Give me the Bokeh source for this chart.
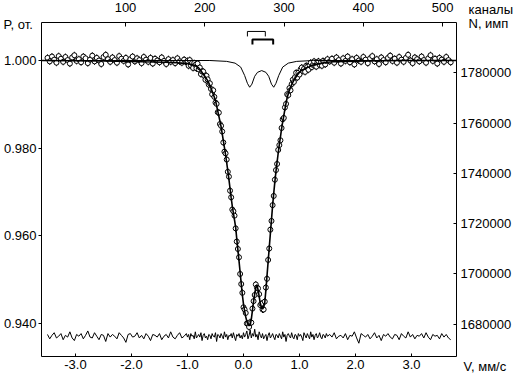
import numpy as np
from bokeh.plotting import figure
from bokeh.models import (Range1d, LinearAxis, FixedTicker, PrintfTickFormatter,
                          Label, ColumnDataSource)
from bokeh.embed import file_html
from bokeh.resources import INLINE

# ---------------- data ----------------
# velocity of the measured channels, mm/s
velocity = np.round(np.concatenate([np.arange(-3.50, -1.0, 0.04),
                                    np.arange(-1.00, 1.51, 0.02),
                                    np.arange(1.54, 3.71, 0.04)]), 2)

# relative transmission P of the measured points
p_left = [1.0006, 0.9998, 1.0009, 1.0002, 0.9995, 1.0010, 1.0004, 0.9997, 1.0008, 1.0001,
          0.9993, 1.0007, 1.0012, 0.9999, 1.0003, 0.9996, 1.0009, 1.0005, 0.9994, 1.0002,
          1.0011, 0.9998, 1.0006, 1.0000, 0.9992, 1.0008, 1.0013, 1.0003, 0.9997, 1.0007,
          1.0001, 0.9995, 1.0010, 1.0004, 0.9999, 1.0006, 0.9991, 1.0003, 1.0009, 0.9998,
          1.0005, 1.0001, 0.9994, 1.0008, 1.0002, 0.9997, 1.0006, 0.9993, 1.0004, 1.0000,
          0.9996, 1.0007, 0.9999, 0.9992, 1.0003, 0.9997, 1.0001, 0.9994, 1.0005, 0.9998,
          0.9995, 1.0002, 0.9996]
p_center = [0.9999, 0.9988, 1.0001, 0.9989, 0.9994, 0.9983, 0.9994, 0.9990, 0.9982, 0.9993,
            0.9980, 0.9984, 0.9969, 0.9975, 0.9975, 0.9965, 0.9956, 0.9965, 0.9957, 0.9945,
            0.9948, 0.9935, 0.9923, 0.9932, 0.9917, 0.9904, 0.9901, 0.9882, 0.9881, 0.9855,
            0.9851, 0.9838, 0.9813, 0.9792, 0.9788, 0.9774, 0.9746, 0.9735, 0.9703, 0.9688,
            0.9660, 0.9656, 0.9646, 0.9617, 0.9587, 0.9570, 0.9551, 0.9513, 0.9490, 0.9470,
            0.9437, 0.9432, 0.9424, 0.9400, 0.9400, 0.9392, 0.9403, 0.9402, 0.9434, 0.9451,
            0.9465, 0.9489, 0.9482, 0.9480, 0.9467, 0.9442, 0.9445, 0.9432, 0.9432, 0.9450,
            0.9482, 0.9502, 0.9545, 0.9571, 0.9614, 0.9634, 0.9670, 0.9691, 0.9728, 0.9750,
            0.9764, 0.9796, 0.9807, 0.9818, 0.9846, 0.9866, 0.9869, 0.9893, 0.9901, 0.9923,
            0.9921, 0.9937, 0.9932, 0.9946, 0.9956, 0.9951, 0.9962, 0.9972, 0.9961, 0.9972,
            0.9968, 0.9980, 0.9984, 0.9976, 0.9981, 0.9974, 0.9988, 0.9986, 0.9979, 0.9989,
            0.9995, 0.9985, 0.9990, 0.9998, 0.9988, 0.9986, 0.9996, 0.9998, 0.9990, 0.9995,
            0.9988, 0.9999, 0.9996, 0.9991, 0.9999, 1.0003]
p_right = [0.9998, 1.0004, 0.9995, 1.0007, 1.0001, 0.9993, 1.0005, 0.9999, 1.0009, 0.9996,
           1.0003, 0.9991, 1.0006, 1.0000, 0.9997, 1.0008, 1.0002, 0.9994, 1.0005, 1.0010,
           0.9998, 1.0003, 0.9992, 1.0007, 1.0001, 0.9996, 1.0006, 1.0011, 0.9999, 1.0004,
           0.9995, 1.0008, 1.0002, 0.9997, 1.0006, 1.0013, 1.0000, 0.9994, 1.0007, 1.0003,
           0.9998, 1.0009, 1.0001, 0.9995, 1.0005, 1.0012, 0.9999, 1.0004, 0.9993, 1.0006,
           1.0002, 0.9997, 1.0008, 1.0001, 0.9996]
transmission = p_left + p_center + p_right

# fitted envelope (thick line)
fit_velocity_left = [-3.607, -2.5, -1.8, -1.4, -1.2, -1.1]
fit_left = [1.0000, 0.9999, 0.9997, 0.9996, 0.9995, 0.9994]
fit_center = [0.9993, 0.9992, 0.9992, 0.9991, 0.9991, 0.9990, 0.9989, 0.9989, 0.9987, 0.9985,
              0.9983, 0.9980, 0.9977, 0.9973, 0.9969, 0.9966, 0.9962, 0.9958, 0.9954, 0.9949,
              0.9943, 0.9937, 0.9930, 0.9923, 0.9916, 0.9909, 0.9897, 0.9885, 0.9873, 0.9861,
              0.9849, 0.9833, 0.9817, 0.9801, 0.9785, 0.9767, 0.9748, 0.9729, 0.9708, 0.9687,
              0.9668, 0.9652, 0.9636, 0.9620, 0.9593, 0.9568, 0.9543, 0.9517, 0.9491, 0.9465,
              0.9444, 0.9429, 0.9415, 0.9405, 0.9398, 0.9395, 0.9397, 0.9410, 0.9430, 0.9450,
              0.9467, 0.9482, 0.9488, 0.9477, 0.9462, 0.9446, 0.9437, 0.9433, 0.9437, 0.9448,
              0.9476, 0.9509, 0.9541, 0.9573, 0.9605, 0.9637, 0.9669, 0.9697, 0.9723, 0.9747,
              0.9768, 0.9789, 0.9808, 0.9826, 0.9844, 0.9860, 0.9874, 0.9889, 0.9903, 0.9915,
              0.9924, 0.9932, 0.9939, 0.9945, 0.9950, 0.9955, 0.9959, 0.9963, 0.9967, 0.9970,
              0.9973, 0.9976, 0.9977, 0.9979, 0.9980, 0.9982, 0.9983, 0.9984, 0.9985, 0.9986,
              0.9988, 0.9989, 0.9989, 0.9990, 0.9990, 0.9991, 0.9992, 0.9992, 0.9993, 0.9993,
              0.9994, 0.9994, 0.9995, 0.9995, 0.9996, 0.9996]
fit_velocity_right = [1.6, 1.8, 2.2, 2.8, 3.804]
fit_right = [0.9997, 0.9998, 0.9999, 1.0000, 1.0000]

# sub-spectrum (thin doublet line)
sub_velocity = [-3.607, -0.60, -0.30, -0.15, -0.05, 0.02, 0.07, 0.11, 0.15, 0.20, 0.25,
                0.325, 0.40, 0.45, 0.50, 0.54, 0.58, 0.63, 0.70, 0.80, 0.95, 1.25, 3.804]
sub_p = [1.0000, 1.0000, 0.9998, 0.9994, 0.9985, 0.9966, 0.9948, 0.9939, 0.9946, 0.9964, 0.9973,
         0.9977, 0.9973, 0.9964, 0.9946, 0.9939, 0.9948, 0.9966, 0.9985, 0.9994, 0.9998, 1.0000, 1.0000]

# line positions of the two doublets (stick diagrams)
doublet_1 = [0.07, 0.39]
doublet_2 = [0.16, 0.53]

# residual (difference) curve, in units of 0.0002
resid_left = [2, -3, 1, 4, -2, 0, 3, -4, 1, -1, 5, -2, -5, 2, 0, 3, -3, 1, 6, -1,
              -2, 4, 0, -4, 2, 1, -6, 3, -1, 2, 0, -3, 4, 1, -2, -7, 2, 3, -1, 0,
              4, -2, 1, -3, 3, 0, -5, 2, 1, -1, 3, -4, 0, 2, -2, 5, -1, -3, 1, 4,
              -2, 0, 3]
resid_center = [-1, 2, -4, 3, 0, 1, -3, 5, -2, 0, 2, -1, 4, -5, 1, 3, -2, 0, -4, 2,
                1, -3, 3, 0, -1, 4, -6, 2, 1, -2, 3, 0, -3, 5, -1, 2, -4, 1, 0, 3,
                -2, 4, -1, -5, 2, 0, 3, -2, 1, -3, 4, -1, 2, 6, -3, 1, 7, -2, 3, 0,
                8, -1, 2, -4, 5, 1, -2, 3, -3, 0, 2, -5, 1, 4, -2, 0, 3, -1, -4, 2,
                1, -2, 3, 0, -3, 5, -1, 2, -6, 1, 3, 0, -2, 4, -1, -3, 2, 1, -4, 3,
                0, 2, -1, -5, 4, 1, -2, 3, 0, -3, 5, -1, 2, -4, 1, 3, -2, 0, 4, -1,
                -3, 2, 1, -2, 3, 0]
resid_right = [2, -1, 4, -3, 0, 1, -2, 3, -4, 1, 0, 5, -2, -8, 3, 1, -1, 2, -3, 0,
               4, -2, 1, -5, 2, 0, 3, -1, -3, 2, 1, -4, 3, 0, -2, 5, -1, 2, -3, 1,
               0, 3, -2, 4, -1, -4, 2, 0, 1, -3, 3, -1, 2, -2, -4]
residual = resid_left + resid_center + resid_right

# tick values
v_ticks = [-3, -2, -1, 0, 1, 2, 3]
p_ticks = [0.94, 0.96, 0.98, 1.00]
n_ticks = [1680000, 1700000, 1720000, 1740000, 1760000, 1780000]
ch_ticks = [100, 200, 300, 400, 500]

# ---------------- plot ----------------
FONT = "Liberation Sans"
FS = "13px"

# box limits (in each axis' own units)
V_MIN, V_MAX = -3.607, 3.804
P_MIN, P_MAX = 0.93247, 1.00867
N_MIN, N_MAX = 1667052, 1800120
CH_MIN, CH_MAX = -5.99, 517.7

# the frame spans the whole canvas; the axes are drawn at fixed locations
p = figure(width=517, height=377, output_backend="svg", toolbar_location=None,
           x_range=Range1d(-4.339, 4.893), y_range=Range1d(0.92768, 1.01369),
           x_axis_location=None, y_axis_location=None,
           min_border=0, min_border_left=0, min_border_right=0,
           min_border_top=0, min_border_bottom=0)
p.extra_x_ranges = {"ch": Range1d(-57.73, 594.6)}
p.extra_y_ranges = {"N": Range1d(1658687, 1808884)}
p.outline_line_color = None
p.background_fill_color = "white"
p.border_fill_color = "white"
for g in p.grid:
    g.visible = False


def style(ax, tin, tout, standoff, ticks, fmt):
    ax.ticker = FixedTicker(ticks=ticks)
    ax.formatter = PrintfTickFormatter(format=fmt)
    ax.major_tick_in = tin
    ax.major_tick_out = tout
    ax.minor_tick_in = 0
    ax.minor_tick_out = 0
    ax.major_label_standoff = standoff
    ax.major_label_text_font = FONT
    ax.major_label_text_font_size = FS
    ax.major_label_text_color = "black"
    ax.axis_line_color = "black"
    ax.axis_line_width = 1
    ax.major_tick_line_color = "black"


ax_b = LinearAxis(fixed_location=P_MIN, bounds=(V_MIN, V_MAX))
style(ax_b, 3, 0, 3, v_ticks, "%.1f")
p.add_layout(ax_b, "below")
ax_l = LinearAxis(fixed_location=V_MIN, bounds=(P_MIN, P_MAX))
style(ax_l, 0, 3, 2, p_ticks, "%.3f")
p.add_layout(ax_l, "left")
ax_r = LinearAxis(y_range_name="N", fixed_location=V_MAX, bounds=(N_MIN, N_MAX))
style(ax_r, 3, 0, 4, n_ticks, "%d")
p.add_layout(ax_r, "right")
ax_t = LinearAxis(x_range_name="ch", fixed_location=P_MAX, bounds=(CH_MIN, CH_MAX))
style(ax_t, 4, 0, 11, ch_ticks, "%d")
p.add_layout(ax_t, "above")

src = ColumnDataSource(dict(
    v=velocity,
    p=transmission,
    lo=[t - 0.0008 for t in transmission],
    hi=[t + 0.0008 for t in transmission],
    r=[0.9371 + 0.0002 * r for r in residual],
))

# residual curve
p.line("v", "r", source=src, line_color="black", line_width=1)
# error bars and points
p.segment(x0="v", y0="lo", x1="v", y1="hi", source=src, line_color="black", line_width=1)
p.scatter("v", "p", source=src, marker="circle", size=5, fill_color="white",
          line_color="black", line_width=1)

# sub-spectrum
p.line(sub_velocity, sub_p, line_color="black", line_width=1)
# fitted envelope
fit_v = list(fit_velocity_left) + list(velocity[63:63 + 126]) + list(fit_velocity_right)
fit_p = fit_left + fit_center + fit_right
p.line(fit_v, fit_p, line_color="black", line_width=1.6)

# stick diagrams
p.multi_line(xs=[[doublet_1[0], doublet_1[0], doublet_1[1], doublet_1[1]],
                 [doublet_2[0], doublet_2[0], doublet_2[1], doublet_2[1]]],
             ys=[[1.00549, 1.00663, 1.00663, 1.00549],
                 [1.00366, 1.0048, 1.0048, 1.00366]],
             line_color="black", line_width=[1, 2])

# axis titles (canvas pixels)
for txt, x, y in [("P, от.", 3, 24), ("каналы", 468, 9),
                  ("N, имп", 468, 23), ("V, мм/с", 463, 366)]:
    p.add_layout(Label(x=x, y=y, x_units="canvas", y_units="canvas", text=txt,
                       text_font=FONT, text_font_size=FS, text_color="black",
                       text_baseline="middle", text_align="left"))

open("out.html", "w").write(file_html(p, INLINE))
